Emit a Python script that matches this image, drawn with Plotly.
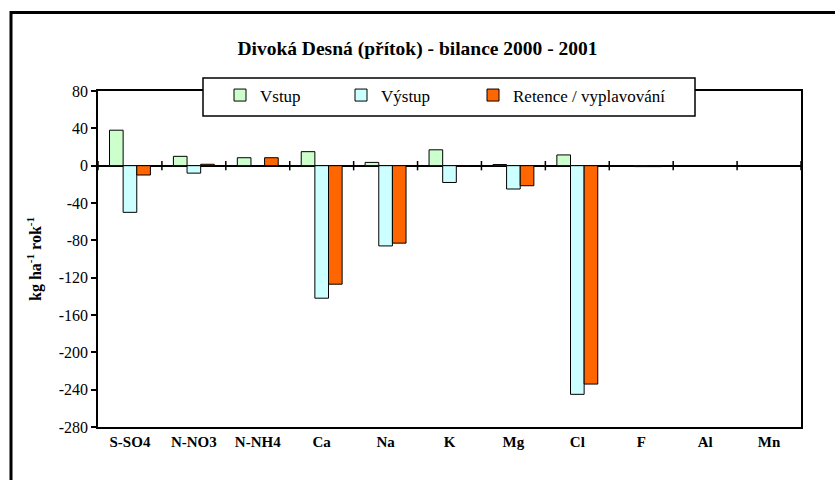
import plotly.graph_objects as go

categories = ["S-SO4", "N-NO3", "N-NH4", "Ca", "Na", "K", "Mg", "Cl", "F", "Al", "Mn"]
vstup = [38, 10, 8.5, 15, 3.5, 17, 1.2, 11.5, 0, 0, 0]
vystup = [-50, -8, 0, -142, -86, -18, -25, -245, -1, 0, 0]
retence = [-10, 1.5, 8.5, -127, -83, -0.5, -21.5, -234, -1, 0, 0]
series_names = ["Vstup", "Výstup", "Retence / vyplavování"]
y_ticks = [80, 40, 0, -40, -80, -120, -160, -200, -240, -280]

W, H = 835, 480
L, R, T, B = 98, 34, 91, 53
PW, PH = W - L - R, H - T - B

def px_x(p):
    return (p - L) / PW

def px_y(p):
    return 1 - (p - T) / PH

FONT = "Liberation Serif, Times New Roman, serif"
colors = ["#CCFFCC", "#CCFFFF", "#FF6600"]
legends = ["legend", "legend2", "legend3"]

fig = go.Figure()
for name, vals, col, lg in zip(series_names, [vstup, vystup, retence], colors, legends):
    fig.add_trace(go.Bar(
        x=categories, y=vals, name=name, legend=lg,
        marker=dict(color=col, line=dict(color="black", width=1)),
        hoverinfo="x+y+name",
    ))

# boundary ticks crossing the zero line
shapes = []
for i in range(len(categories) + 1):
    xb = i - 0.5
    shapes.append(dict(type="line", xref="x", yref="y", x0=xb, x1=xb, y0=-5, y1=5,
                       line=dict(color="black", width=1.5), layer="above"))
# legend box
shapes.append(dict(type="rect", xref="paper", yref="paper",
                   x0=px_x(203), x1=px_x(695), y0=px_y(116), y1=px_y(78),
                   fillcolor="white", line=dict(color="black", width=1.5), layer="above"))
# outer chart frame (only left and top visible)
shapes.append(dict(type="rect", xref="paper", yref="paper",
                   x0=px_x(11), x1=px_x(W + 20), y0=px_y(H + 20), y1=px_y(12.5),
                   fillcolor="rgba(0,0,0,0)", line=dict(color="black", width=3), layer="above"))

leg_x = [220, 341, 473]
leg_common = dict(orientation="h", bgcolor="rgba(0,0,0,0)", borderwidth=0,
                  xanchor="left", yanchor="middle", y=px_y(95.5),
                  font=dict(family=FONT, size=17, color="black"))

fig.update_layout(
    width=W, height=H,
    margin=dict(l=L, r=R, t=T, b=B),
    paper_bgcolor="white", plot_bgcolor="white",
    barmode="group", bargap=0.36, bargroupgap=0,
    title=dict(text="<b>Divoká Desná (přítok) - bilance 2000 - 2001</b>",
               x=0.5, xref="container", xanchor="center",
               y=1 - 48 / H, yref="container", yanchor="middle",
               font=dict(family=FONT, size=19.5, color="black")),
    font=dict(family=FONT, color="black"),
    showlegend=True,
    legend=dict(x=px_x(leg_x[0]), **leg_common),
    legend2=dict(x=px_x(leg_x[1]), **leg_common),
    legend3=dict(x=px_x(leg_x[2]), **leg_common),
    xaxis=dict(
        type="category", categoryarray=categories, categoryorder="array",
        range=[-0.5, len(categories) - 0.5],
        showline=True, linecolor="black", linewidth=1.5, mirror=True,
        ticks="", showgrid=False, zeroline=False,
        tickfont=dict(family=FONT, size=15, color="black"),
        tickprefix="<b>", ticksuffix="</b>",
    ),
    yaxis=dict(
        range=[-280, 80], tickvals=y_ticks, ticktext=[str(v) for v in y_ticks],
        showline=True, linecolor="black", linewidth=1.5, mirror=True,
        ticks="outside", ticklen=5, tickwidth=1.5, tickcolor="black",
        showgrid=False, zeroline=True, zerolinecolor="black", zerolinewidth=1.5,
        tickfont=dict(family=FONT, size=16, color="black"),
    ),
    shapes=shapes,
    annotations=[dict(
        text="<b>kg ha<sup>-1</sup> rok<sup>-1</sup></b>",
        xref="paper", yref="paper", x=px_x(34), y=0.5,
        xanchor="center", yanchor="middle", textangle=-90, showarrow=False,
        font=dict(family=FONT, size=16, color="black"),
    )],
)

fig.write_html("out.html", config={"displayModeBar": False},
               post_script="document.body.style.margin='0';document.body.style.padding='0';")
